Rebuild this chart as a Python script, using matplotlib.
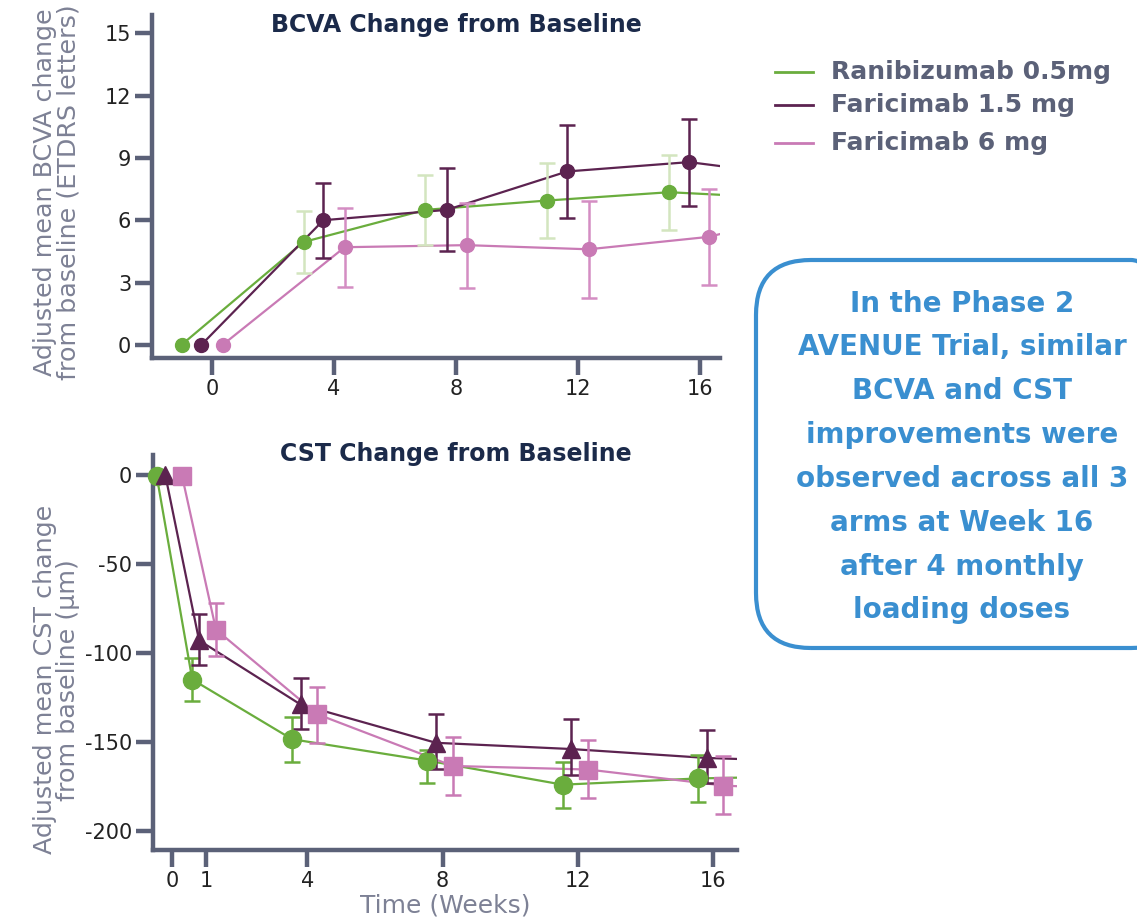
import numpy as np
import matplotlib
matplotlib.use("Agg")
import matplotlib.pyplot as plt
from matplotlib.patches import FancyBboxPatch
from matplotlib.transforms import IdentityTransform

# ============================================
# DATE
# ============================================

serii = ["Ranibizumab 0.5mg", "Faricimab 1.5 mg", "Faricimab 6 mg"]
culori = ["#6aad3d", "#5c2350", "#c97ab5"]
culori_err = ["#d3e5bf", "#5c2350", "#d48dc3"]

# BCVA - saptamani (deplasate pe grafic pentru lizibilitate)
bcva_sapt = [
    [-1.0, 3.0, 7.0, 11.0, 15.0],
    [-0.35, 3.65, 7.7, 11.65, 15.65],
    [0.35, 4.35, 8.35, 12.35, 16.3],
]
bcva_val = [
    [0.0, 4.95, 6.5, 6.95, 7.35],
    [0.0, 6.0, 6.5, 8.35, 8.8],
    [0.0, 4.7, 4.8, 4.6, 5.2],
]
bcva_err = [
    [0.0, 1.5, 1.7, 1.8, 1.8],
    [0.0, 1.8, 2.0, 2.25, 2.1],
    [0.0, 1.9, 2.05, 2.35, 2.3],
]
# urmatorul punct (in afara graficului, linia continua spre margine)
bcva_next_sapt = [19.0, 19.65, 20.35]
bcva_next_val = [7.05, 8.05, 6.7]

# CST
cst_sapt = [
    [-0.45, 0.6, 3.55, 7.55, 11.55, 15.55],
    [-0.2, 0.8, 3.8, 7.8, 11.8, 15.8],
    [0.3, 1.3, 4.3, 8.3, 12.3, 16.3],
]
cst_val = [
    [-1.0, -115.0, -148.5, -160.5, -174.0, -170.5],
    [0.0, -93.0, -129.0, -150.5, -154.0, -159.0],
    [-1.0, -87.0, -134.5, -163.5, -165.5, -174.5],
]
cst_err_jos = [
    [0.0, 12.0, 12.5, 12.5, 13.0, 13.0],
    [0.0, 14.0, 14.0, 14.5, 14.5, 14.0],
    [0.0, 15.0, 16.0, 16.5, 16.0, 16.0],
]
cst_err_sus = [
    [0.0, 12.0, 12.5, 6.0, 13.0, 13.0],
    [0.0, 15.0, 15.0, 16.0, 17.0, 15.5],
    [0.0, 15.0, 15.5, 16.0, 16.5, 16.5],
]
cst_next_sapt = [19.55, 19.8, 20.3]
cst_next_val = [-169.0, -161.5, -178.0]

text_caseta = ("In the Phase 2\nAVENUE Trial, similar\nBCVA and CST\nimprovements were\n"
               "observed across all 3\narms at Week 16\nafter 4 monthly\nloading doses")

# ============================================
# GRAFIC
# ============================================

plt.rcParams["font.family"] = ["DejaVu Sans"]
plt.rcParams["axes.unicode_minus"] = False
ax_col = "#5b6178"
lbl_col = "#7d8195"
titlu_col = "#1b2a4a"

fig = plt.figure(figsize=(11.37, 9.21), dpi=100)
ax1 = fig.add_axes([0.1337, 0.611, 0.4995, 0.373])
ax2 = fig.add_axes([0.1346, 0.077, 0.5136, 0.429])


def stil_axa(ax):
    for s in ["top", "right"]:
        ax.spines[s].set_visible(False)
    for s in ["left", "bottom"]:
        ax.spines[s].set_color(ax_col)
        ax.spines[s].set_linewidth(3.2)
    ax.tick_params(axis="both", colors=ax_col, width=3.2, length=12,
                   labelsize=15, labelcolor="#222222", pad=3)


# --- BCVA ---
for i in range(3):
    ax1.plot(bcva_sapt[i] + [bcva_next_sapt[i]], bcva_val[i] + [bcva_next_val[i]],
             color=culori[i], lw=1.6, zorder=2)
    ax1.errorbar(bcva_sapt[i][1:], bcva_val[i][1:], yerr=bcva_err[i][1:], fmt="none",
                 ecolor=culori_err[i], elinewidth=1.8, capsize=6, capthick=1.8, zorder=3)
    ax1.plot(bcva_sapt[i], bcva_val[i], "o", color=culori[i], ms=10, zorder=4,
             clip_on=False)

ax1.set_xlim(-1.97, 16.66)
ax1.set_ylim(-0.65, 15.9)
ax1.set_xticks([0, 4, 8, 12, 16])
ax1.set_yticks([0, 3, 6, 9, 12, 15])
stil_axa(ax1)

# --- CST ---
markere = ["o", "^", "s"]
for i in range(3):
    ax2.plot(cst_sapt[i] + [cst_next_sapt[i]], cst_val[i] + [cst_next_val[i]],
             color=culori[i], lw=1.6, zorder=2)
    ax2.errorbar(cst_sapt[i][1:], cst_val[i][1:],
                 yerr=[cst_err_jos[i][1:], cst_err_sus[i][1:]], fmt="none",
                 ecolor=culori[i], elinewidth=1.8, capsize=6, capthick=1.8, zorder=3)
    ax2.plot(cst_sapt[i], cst_val[i], markere[i], color=culori[i], ms=13, zorder=4,
             clip_on=False)

ax2.set_xlim(-0.56, 16.7)
ax2.set_ylim(-210.7, 11)
ax2.set_xticks([0, 1, 4, 8, 12, 16])
ax2.set_yticks([0, -50, -100, -150, -200])
stil_axa(ax2)
ax2.set_xlabel("Time (Weeks)", fontsize=18, color=lbl_col, labelpad=2)

# titluri
fig.text(456 / 1137, 1 - 25 / 921, "BCVA Change from Baseline", fontsize=17,
         fontweight="bold", color=titlu_col, ha="center", va="center")
fig.text(456 / 1137, 1 - 454 / 921, "CST Change from Baseline", fontsize=17,
         fontweight="bold", color=titlu_col, ha="center", va="center")

# etichete axa y
fig.text(0.05, 0.791, "Adjusted mean BCVA change\nfrom baseline (ETDRS letters)",
         rotation=90, ha="center", va="center", fontsize=18.3, color=lbl_col,
         linespacing=0.95, multialignment="center")
fig.text(0.05, 0.262, "Adjusted mean CST change\nfrom baseline (µm)",
         rotation=90, ha="center", va="center", fontsize=18.3, color=lbl_col,
         linespacing=0.95, multialignment="center")

# legenda
leg_y = [0.922, 0.886, 0.845]
for i in range(3):
    fig.add_artist(plt.Line2D([0.682, 0.715], [leg_y[i], leg_y[i]],
                              color=culori[i], lw=2, transform=fig.transFigure))
    fig.text(0.731, leg_y[i], serii[i], fontsize=18, fontweight="bold",
             color=ax_col, va="center", ha="left")

# caseta text
caseta = FancyBboxPatch((756, 921 - 648), 430, 388,
                        boxstyle="round,pad=0,rounding_size=55",
                        transform=IdentityTransform(), fill=False,
                        edgecolor="#3a8fd0", lw=3)
fig.patches.append(caseta)
fig.text(962 / 1137, 1 - 457 / 921, text_caseta, fontsize=20, fontweight="bold",
         color="#3a8fd0", ha="center", va="center", linespacing=1.72)

fig.savefig("out.png", dpi=100)
